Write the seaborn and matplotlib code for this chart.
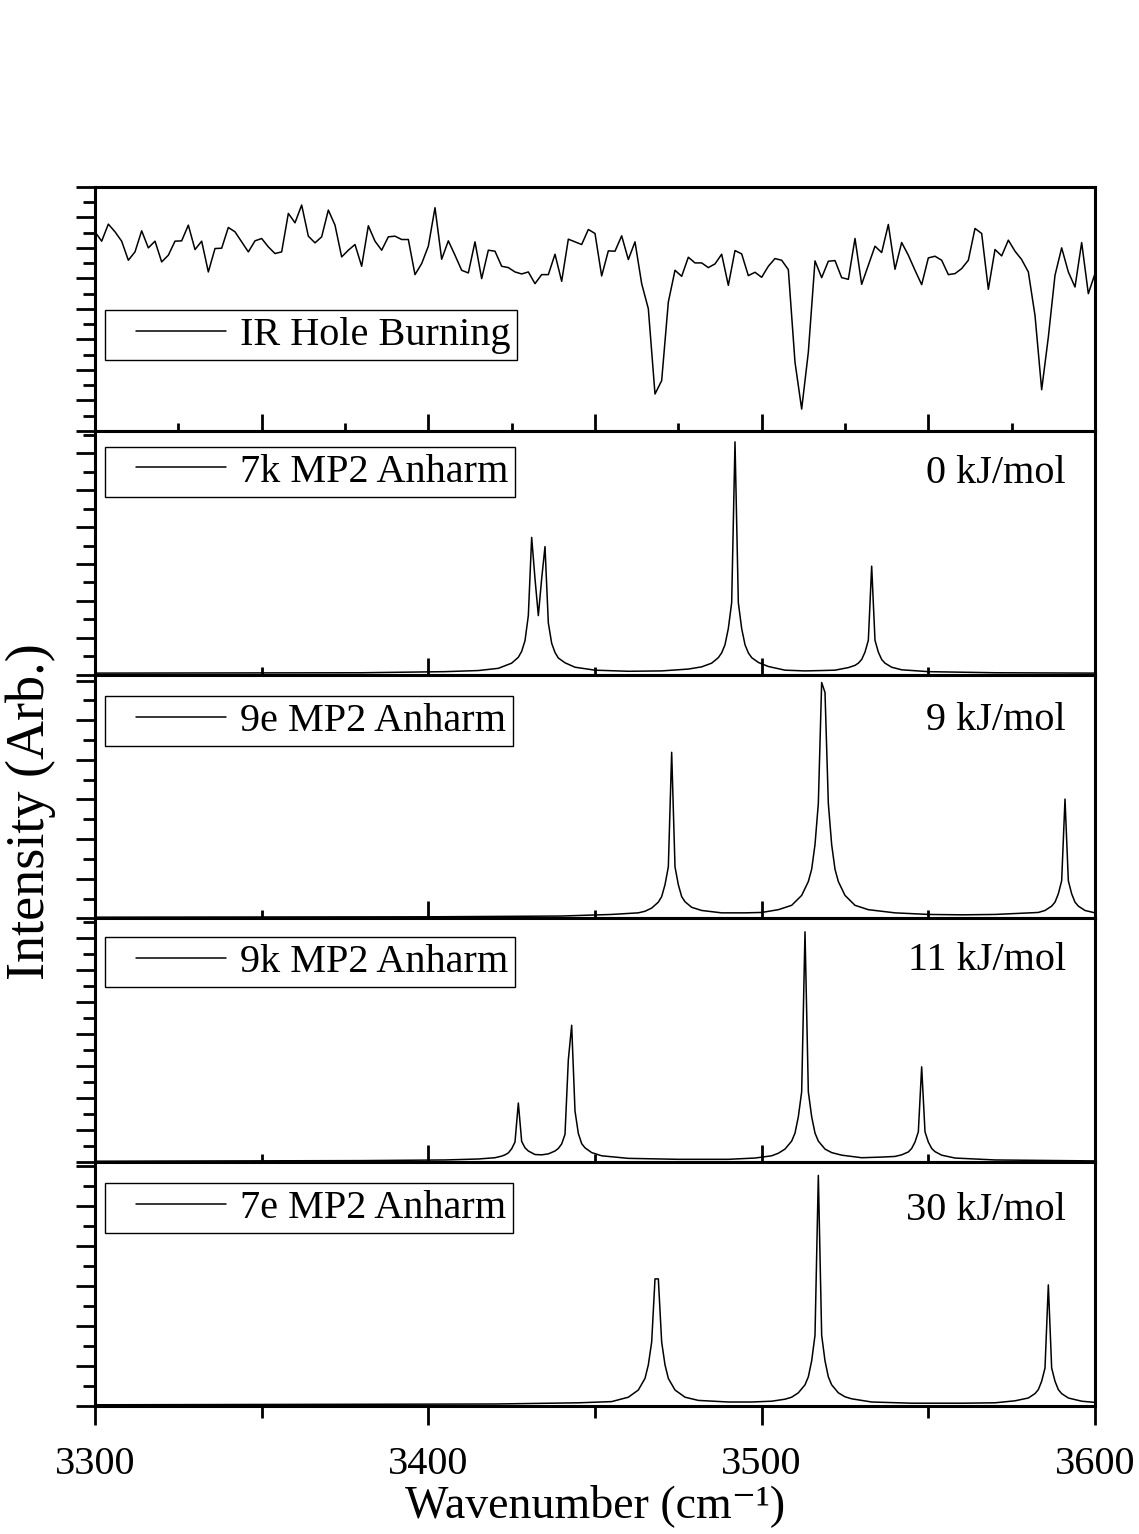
"""
IR hole burning spectrum compared with four calculated (MP2 anharmonic) spectra.
Five stacked panels sharing the wavenumber axis.
"""
import numpy as np
import pandas as pd
import seaborn as sns
from matplotlib import pyplot as plt
from matplotlib.lines import Line2D
from matplotlib.legend_handler import HandlerLine2D
from matplotlib.ticker import MultipleLocator, NullFormatter

sns.set_style("ticks")
plt.rcParams['font.family'] = ['Liberation Serif', 'DejaVu Serif']
for key in ['text.color', 'axes.labelcolor', 'xtick.color', 'ytick.color', 'axes.edgecolor']:
    plt.rcParams[key] = 'black'

# ---- data ----
# experimental trace, one point every 2 cm-1 (arb. units)
ir_wavenumber = np.arange(3300, 3601, 2)
ir_signal = [595, 567, 618, 595, 567, 510, 535, 598, 547, 567, 505, 525, 567, 568, 615,
             542, 567, 475, 545, 546, 608, 595, 565, 535, 568, 575, 550, 530, 535, 650,
             622, 675, 582, 562, 580, 660, 615, 520, 540, 557, 492, 613, 567, 540, 580,
             582, 572, 572, 467, 500, 552, 667,
             513, 568, 525, 480, 472, 565, 455, 540, 537, 492, 488, 475, 469, 475, 440,
             467, 467, 528, 447, 573, 565, 557, 602, 590, 463, 538, 537, 583, 512, 565,
             440, 365, 110, 150, 385, 480, 462, 519, 502, 502, 488, 499, 528, 435, 539,
             529, 464, 474, 459,
             492, 515, 510, 482, 205, 65, 235, 508, 458, 507, 509, 458, 453, 575, 438,
             495, 552, 533, 617, 483, 563, 525, 480, 437, 517, 522, 510, 467, 470, 485,
             510, 605, 590, 423, 542, 523, 570, 537, 512, 475, 345, 123, 280, 465, 547,
             475, 430, 563, 410, 470]

# calculated spectra (arb. units)
wn_7k = [3300, 3380, 3405, 3415, 3421, 3425, 3427, 3428, 3429, 3430,
         3431, 3432, 3433, 3434, 3435, 3436, 3437, 3438, 3439, 3441,
         3444, 3450, 3460, 3470, 3478, 3482, 3485, 3487, 3488, 3489,
         3490, 3491, 3492, 3493, 3494, 3495, 3496, 3497, 3499, 3502,
         3507, 3513, 3518, 3522, 3526, 3528, 3529, 3530, 3531, 3532,
         3533, 3534, 3535, 3536, 3537, 3539, 3542, 3550, 3570, 3600]
int_7k = [0.04, 0.05, 0.08, 0.11, 0.17, 0.31, 0.47, 0.63, 0.92, 1.6,
          3.72, 2.6, 1.6, 2.6, 3.47, 1.4, 0.85, 0.6, 0.45, 0.32,
          0.2, 0.12, 0.09, 0.1, 0.15, 0.21, 0.31, 0.46, 0.59, 0.81,
          1.25, 1.95, 6.31, 1.95, 1.25, 0.81, 0.59, 0.46, 0.33, 0.22,
          0.12, 0.1, 0.11, 0.12, 0.19, 0.25, 0.31, 0.41, 0.61, 0.93,
          2.94, 0.93, 0.61, 0.41, 0.31, 0.2, 0.13, 0.08, 0.05, 0.04]

wn_9e = [3300, 3400, 3440, 3455, 3463, 3465, 3467, 3469, 3470, 3471,
         3472, 3473, 3474, 3475, 3476, 3477, 3479, 3482, 3488, 3495,
         3500, 3505, 3509, 3512, 3514, 3515, 3516, 3517, 3518, 3519,
         3520, 3521, 3522, 3523, 3525, 3528, 3532, 3540, 3550, 3560,
         3570, 3578, 3583, 3585, 3587, 3588, 3589, 3590, 3591, 3592,
         3593, 3594, 3595, 3597, 3600]
int_9e = [0.03, 0.04, 0.06, 0.1, 0.14, 0.18, 0.26, 0.41, 0.55, 0.85,
          1.3, 4.19, 1.3, 0.85, 0.55, 0.42, 0.28, 0.2, 0.14, 0.14,
          0.15, 0.22, 0.33, 0.58, 0.93, 1.24, 1.86, 2.9, 5.95, 5.7,
          2.9, 1.86, 1.24, 0.93, 0.58, 0.33, 0.22, 0.14, 0.1, 0.09,
          0.1, 0.13, 0.15, 0.2, 0.31, 0.41, 0.62, 0.95, 3.01, 0.95,
          0.62, 0.41, 0.31, 0.2, 0.14]

wn_9k = [3300, 3380, 3405, 3415, 3420, 3422, 3423, 3424, 3425, 3426,
         3427, 3428, 3429, 3430, 3432, 3434, 3436, 3438, 3439, 3440,
         3441, 3442, 3443, 3444, 3445, 3446, 3447, 3449, 3452, 3460,
         3475, 3490, 3498, 3503, 3505, 3507, 3509, 3510, 3511, 3512,
         3513, 3514, 3515, 3516, 3517, 3519, 3521, 3524, 3530, 3536,
         3540, 3542, 3544, 3545, 3546, 3547, 3548, 3549, 3550, 3551,
         3552, 3554, 3558, 3570, 3600]
int_9k = [0.03, 0.05, 0.07, 0.1, 0.14, 0.19, 0.23, 0.29, 0.42, 0.63,
          1.85, 0.65, 0.45, 0.35, 0.24, 0.23, 0.26, 0.35, 0.43, 0.57,
          0.87, 3.2, 4.28, 1.6, 0.9, 0.58, 0.45, 0.3, 0.2, 0.12,
          0.09, 0.09, 0.13, 0.2, 0.28, 0.41, 0.66, 0.91, 1.42, 2.2,
          7.2, 2.2, 1.42, 0.91, 0.66, 0.41, 0.3, 0.22, 0.14, 0.16,
          0.18, 0.23, 0.32, 0.43, 0.63, 0.95, 2.98, 0.95, 0.63, 0.43,
          0.33, 0.22, 0.13, 0.07, 0.04]

wn_7e = [3300, 3420, 3445, 3455, 3460, 3463, 3465, 3466, 3467, 3468,
         3469, 3470, 3471, 3472, 3474, 3477, 3481, 3490, 3497, 3503,
         3507, 3509, 3511, 3513, 3514, 3515, 3516, 3517, 3518, 3519,
         3520, 3521, 3523, 3525, 3527, 3533, 3545, 3560, 3570, 3576,
         3580, 3582, 3583, 3584, 3585, 3586, 3587, 3588, 3589, 3590,
         3592, 3596, 3600]
int_7e = [0.03, 0.05, 0.08, 0.11, 0.22, 0.4, 0.69, 1.03, 1.6, 3.18,
          3.18, 1.6, 1.03, 0.69, 0.4, 0.22, 0.14, 0.1, 0.1, 0.12,
          0.17, 0.22, 0.33, 0.53, 0.73, 1.13, 1.77, 5.77, 1.77, 1.13,
          0.73, 0.53, 0.33, 0.23, 0.18, 0.1, 0.07, 0.07, 0.08, 0.13,
          0.2, 0.31, 0.41, 0.62, 0.95, 3.03, 0.95, 0.62, 0.41, 0.31,
          0.2, 0.12, 0.09]

labels = ["IR Hole Burning", "7k MP2 Anharm", "9e MP2 Anharm", "9k MP2 Anharm", "7e MP2 Anharm"]
energies = [None, "0 kJ/mol", "9 kJ/mol", "11 kJ/mol", "30 kJ/mol"]

panels = [
    pd.DataFrame({"wn": ir_wavenumber, "I": ir_signal}),
    pd.DataFrame({"wn": wn_7k, "I": int_7k}),
    pd.DataFrame({"wn": wn_9e, "I": int_9e}),
    pd.DataFrame({"wn": wn_9k, "I": int_9k}),
    pd.DataFrame({"wn": wn_7e, "I": int_7e}),
]

# per panel: y upper limit, y major step, legend top, energy label y
ytop = [729, 6.61, 6.15, 7.62, 6.1]
ystep = [729 / 8, 1, 1, 1, 1]
leg_y = [0.494, 0.934, 0.911, 0.922, 0.914]
energy_y = [None, 0.826, 0.813, 0.828, 0.803]

fig = plt.figure(figsize=(11.39, 15.34), dpi=100)
gs = fig.add_gridspec(5, 1, left=95 / 1139, right=1095 / 1139,
                      bottom=1 - 1406 / 1534, top=1 - 187 / 1534, hspace=0)

for i, df in enumerate(panels):
    ax = fig.add_subplot(gs[i])
    sns.lineplot(data=df, x="wn", y="I", ax=ax, color="black", linewidth=1.1,
                 label=labels[i], estimator=None, sort=False)
    ax.set_xlim(3300, 3600)
    ax.set_ylim(0, ytop[i])
    ax.set_xlabel("")
    ax.set_ylabel("")

    for sp in ax.spines.values():
        sp.set_linewidth(2.2)
        sp.set_color("black")

    # y ticks: outward, no labels
    ax.yaxis.set_major_locator(MultipleLocator(ystep[i]))
    ax.yaxis.set_minor_locator(MultipleLocator(ystep[i] / 2))
    ax.yaxis.set_major_formatter(NullFormatter())
    ax.tick_params(axis="y", which="major", direction="out", length=14, width=2.0, left=True)
    ax.tick_params(axis="y", which="minor", direction="out", length=8.5, width=2.0, left=True)

    # x ticks
    if i == 0:
        ax.xaxis.set_major_locator(MultipleLocator(50))
        ax.xaxis.set_minor_locator(MultipleLocator(25))
    else:
        ax.xaxis.set_major_locator(MultipleLocator(100))
        ax.xaxis.set_minor_locator(MultipleLocator(50))
    if i < 4:
        ax.tick_params(axis="x", which="major", direction="in", length=12.5, width=2.0,
                       labelbottom=False)
        ax.tick_params(axis="x", which="minor", direction="in", length=6, width=2.0)
    else:
        ax.tick_params(axis="x", which="major", direction="out", length=14, width=2.0,
                       labelsize=29, pad=15)
        ax.tick_params(axis="x", which="minor", direction="out", length=8.5, width=2.0)
        ax.set_xlabel("Wavenumber (cm⁻¹)", fontsize=33)
        ax.xaxis.set_label_coords(0.5, -(1484 - 1406) / 243.8)

    leg = ax.legend(loc="upper left", bbox_to_anchor=(0.01, leg_y[i]), borderaxespad=0,
                    fontsize=29, frameon=True, fancybox=False, framealpha=1,
                    borderpad=0.16, handlelength=2.85, handletextpad=0.35,
                    handler_map={Line2D: HandlerLine2D(xpad=0.6)})
    leg.get_frame().set_edgecolor("black")
    leg.get_frame().set_linewidth(1.0)

    if energies[i]:
        ax.text(0.971, energy_y[i], energies[i], transform=ax.transAxes,
                ha="right", va="center", fontsize=29)

fig.text(31 / 1139, 1 - 812 / 1534, "Intensity (Arb.)", rotation=90,
         ha="center", va="center", fontsize=39)

plt.savefig("out.png", dpi=100)
